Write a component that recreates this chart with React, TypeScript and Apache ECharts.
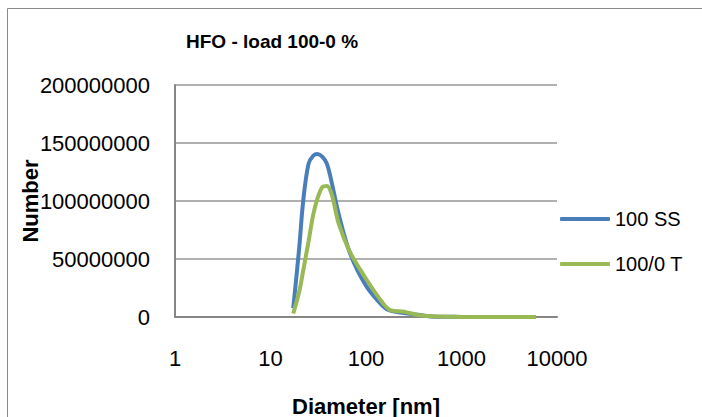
import React, { useEffect, useRef } from "react";
import * as echarts from "echarts";

const diameters = [17.3, 20, 22, 25, 28, 31, 35, 39, 44, 52, 68, 100, 150, 180, 250, 350, 550, 1000, 2000, 4000, 6000];
const ssValues = [7.5e6, 60e6, 100e6, 132e6, 139e6, 140.5e6, 138e6, 132e6, 115e6, 88e6, 55e6, 27e6, 9.5e6, 5.5e6, 3.5e6, 1.9e6, 0.3e6, 0.1e6, 0, 0, 0];
const tValues = [3e6, 22e6, 40e6, 65e6, 88e6, 102e6, 112e6, 113e6, 105e6, 80e6, 56e6, 33e6, 12e6, 6e6, 4.6e6, 1.7e6, 0.4e6, 0.1e6, 0, 0, 0];
const seriesNames = ["100 SS", "100/0 T"];
const seriesColors = ["#4A7EBB", "#98B954"];
const FONT = "Liberation Sans";

export default function App() {
  const ref = useRef<HTMLDivElement>(null);
  useEffect(() => {
    if (!ref.current) return;
    const chart = echarts.init(ref.current, undefined, { renderer: "svg" });
    const mk = (vals: number[]) => diameters.map((d, i) => [d, vals[i]]);
    chart.setOption({
      animation: false,
      backgroundColor: "#ffffff",
      title: {
        text: "HFO - load 100-0 %",
        left: 186,
        top: 32,
        padding: 0,
        textStyle: { fontFamily: FONT, fontSize: 19, fontWeight: "bold", color: "#000" },
      },
      graphic: [
        {
          type: "rect",
          shape: { x: 7.5, y: 8.5, width: 900, height: 900 },
          style: { fill: "none", stroke: "#8a8a8a", lineWidth: 1 },
          silent: true,
        },
      ],
      legend: {
        orient: "vertical",
        left: 555,
        top: 202,
        itemWidth: 50,
        itemHeight: 4,
        itemGap: 21,
        icon: "roundRect",
        textStyle: { fontFamily: FONT, fontSize: 20, color: "#000", lineHeight: 24 },
        data: seriesNames,
      },
      grid: { left: 175, right: 145, top: 85, bottom: 100, outerBoundsMode: "none", containLabel: false },
      xAxis: {
        type: "log",
        logBase: 10,
        min: 1,
        max: 10000,
        name: "Diameter [nm]",
        nameLocation: "middle",
        nameGap: 78,
        nameMoveOverlap: false,
        nameTextStyle: { fontFamily: FONT, fontSize: 22, fontWeight: "bold", color: "#000" },
        axisLine: { show: true, lineStyle: { color: "#868686", width: 2 } },
        axisTick: { show: false },
        splitLine: { show: false },
        minorTick: { show: false },
        axisLabel: {
          fontFamily: FONT,
          fontSize: 22,
          color: "#000",
          margin: 30,
          formatter: (v: number) => String(Math.round(v)),
        },
      },
      yAxis: {
        type: "value",
        min: 0,
        max: 200000000,
        interval: 50000000,
        name: "Number",
        nameLocation: "middle",
        nameGap: 134,
        nameMoveOverlap: false,
        nameTextStyle: { fontFamily: FONT, fontSize: 22, fontWeight: "bold", color: "#000" },
        axisLine: { show: true, lineStyle: { color: "#868686", width: 2 } },
        axisTick: { show: false },
        splitLine: { show: true, lineStyle: { color: "#969696", width: 1.5 } },
        axisLabel: {
          fontFamily: FONT,
          fontSize: 22,
          color: "#000",
          margin: 25,
          formatter: (v: number) => String(v),
        },
      },
      series: [
        {
          name: seriesNames[0],
          type: "line",
          data: mk(ssValues),
          smooth: 0.35,
          showSymbol: false,
          symbol: "none",
          lineStyle: { color: seriesColors[0], width: 4 },
          itemStyle: { color: seriesColors[0] },
        },
        {
          name: seriesNames[1],
          type: "line",
          data: mk(tValues),
          smooth: 0.35,
          showSymbol: false,
          symbol: "none",
          lineStyle: { color: seriesColors[1], width: 4 },
          itemStyle: { color: seriesColors[1] },
        },
      ],
    });
    return () => chart.dispose();
  }, []);
  return (
    <div
      ref={ref}
      style={{ position: "absolute", left: 0, top: 0, width: 702, height: 417 }}
    />
  );
}
